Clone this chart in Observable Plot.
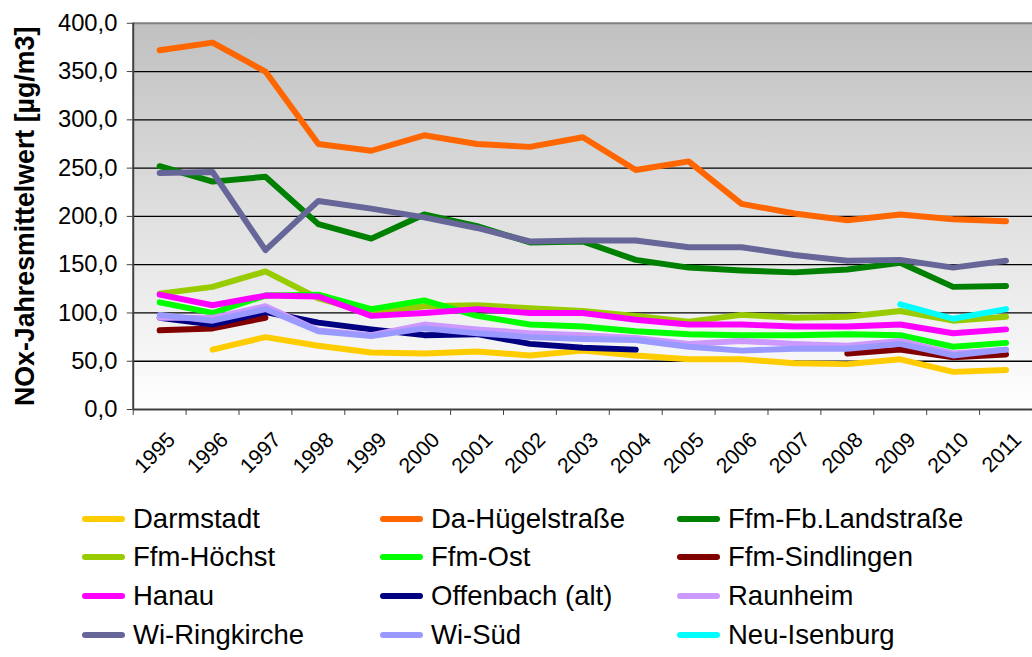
<!DOCTYPE html>
<html>
<head>
<meta charset="utf-8">
<script src="https://cdn.jsdelivr.net/npm/d3@7"></script>
<script src="https://cdn.jsdelivr.net/npm/@observablehq/plot@0.6"></script>
<style>
  html, body { margin: 0; padding: 0; background: #fff; overflow: hidden; }
  #wrap { position: relative; width: 1032px; height: 657px; overflow: hidden; font-family: "Liberation Sans", Arial, sans-serif; }
  #chart { position: absolute; left: 0; top: 0; }
  .leg { position: absolute; display: flex; align-items: center; height: 32px; font-size: 27.5px; color: #000; white-space: nowrap; }
  .leg .sw { width: 43px; height: 6px; border-radius: 3px; margin-right: 8px; }
</style>
</head>
<body>
<div id="wrap"><div id="chart"></div></div>
<script>
const years = [1995,1996,1997,1998,1999,2000,2001,2002,2003,2004,2005,2006,2007,2008,2009,2010,2011];

const darmstadt   = [null, 62, 75, 66, 59, 58, 60, 56, 61, 56, 52, 52, 48, 47, 52, 39, 41];
const daHuegel    = [372, 380, 350, 275, 268, 284, 275, 272, 282, 248, 257, 213, 203, 196, 202, 197, 195];
const fbLand      = [252, 236, 241, 192, 177, 202, 190, 173, 174, 155, 147, 144, 142, 145, 152, 127, 128];
const hoechst     = [120, 127, 143, 115, 100, 107, 108, 105, 102, 97, 91, 98, 95, 96, 102, 92, 96];
const ost         = [111, 100, 118, 119, 104, 113, 97, 88, 86, 81, 78, 77, 77, 78, 77, 65, 69];
const sindlingen  = [82, 84, 95, null, null, null, null, null, null, null, null, null, null, 58, 62, 54, 57];
const hanau       = [119, 108, 118, 117, 97, 100, 104, 100, 100, 93, 88, 88, 86, 86, 88, 79, 83];
const offenbach   = [95, 88, 101, 90, 83, 77, 78, 68, 64, 62, null, null, null, null, null, null, null];
const raunheim    = [95, 95, 107, 82, 77, 88, 83, 79, 77, 74, 68, 71, 68, 66, 71, 58, 62];
const ringkirche  = [245, 246, 165, 216, 208, 199, 188, 174, 175, 175, 168, 168, 160, 154, 155, 147, 154];
const wiSued      = [98, 92, 104, 81, 76, 84, 79, 75, 73, 72, 65, 61, 63, 63, 68, 56, 62];
const neuIsenburg = [null, null, null, null, null, null, null, null, null, null, null, null, null, null, 109, 94, 104];

const seriesNames  = ["Darmstadt","Da-Hügelstraße","Ffm-Fb.Landstraße","Ffm-Höchst","Ffm-Ost","Ffm-Sindlingen","Hanau","Offenbach (alt)","Raunheim","Wi-Ringkirche","Wi-Süd","Neu-Isenburg"];
const seriesValues = [darmstadt, daHuegel, fbLand, hoechst, ost, sindlingen, hanau, offenbach, raunheim, ringkirche, wiSued, neuIsenburg];
const seriesColors = ["#FFCC00","#FF6600","#008000","#99CC00","#00FF00","#800000","#FF00FF","#000080","#CC99FF","#666699","#9999FF","#00FFFF"];

const yTicks = [0, 50, 100, 150, 200, 250, 300, 350, 400];
const yLabel = "NOx-Jahresmittelwert [µg/m3]";

const halfYears = years.map(y => y - 0.5).concat([years[years.length - 1] + 0.5]);

const lineMarks = seriesValues.map((vals, i) =>
  Plot.line(years.map((yr, j) => ({year: yr, v: vals[j]})), {
    x: "year", y: "v",
    stroke: seriesColors[i], strokeWidth: 6,
    strokeLinecap: "round", strokeLinejoin: "round"
  })
);

const chart = Plot.plot({
  width: 1042, height: 500,
  marginLeft: 134, marginRight: 0, marginTop: 23, marginBottom: 87,
  style: {fontFamily: "'Liberation Sans', Arial, sans-serif", background: "transparent", color: "#000", overflow: "visible"},
  x: {domain: [years[0] - 0.5, years[years.length - 1] + 0.5]},
  y: {domain: [0, 400]},
  marks: [
    Plot.frame({fill: "#cccccc", stroke: null, ariaLabel: "bgframe"}),
    Plot.ruleY(yTicks.filter(d => d > 0 && d < 400), {stroke: "#000", strokeWidth: 1.3}),
    Plot.ruleY([400], {stroke: "#808080", strokeWidth: 2}),
    ...lineMarks,
    Plot.ruleX([years[0] - 0.5], {stroke: "#404040", strokeWidth: 2}),
    Plot.ruleY([0], {stroke: "#404040", strokeWidth: 2}),
    Plot.axisY({ticks: yTicks, tickSize: 6, tickPadding: 10, fontSize: 24, label: null,
      tickFormat: d => d.toFixed(1).replace(".", ","), stroke: "#404040"}),
    Plot.axisX({ticks: halfYears, tickSize: 6, tickFormat: () => "", label: null, stroke: "#404040"}),
    Plot.axisX({ticks: years, tickSize: 0, tickPadding: 27, tickRotate: -45, fontSize: 21.5, label: null,
      tickFormat: d => String(d), dx: 12}),
    Plot.text([yLabel], {frameAnchor: "left", dx: -109, rotate: -90, textAnchor: "middle",
      fontSize: 27, fontWeight: "bold", fill: "#000"})
  ]
});

// gradient background for plot area
const svg = d3.select(chart);
const defs = svg.insert("defs", ":first-child");
const grad = defs.append("linearGradient").attr("id", "bgGrad").attr("x1", 0).attr("y1", 0).attr("x2", 0).attr("y2", 1);
grad.append("stop").attr("offset", "0%").attr("stop-color", "#c0c0c0");
grad.append("stop").attr("offset", "100%").attr("stop-color", "#ffffff");
svg.selectAll('[aria-label="bgframe"] rect, rect[aria-label="bgframe"]').attr("fill", "url(#bgGrad)");
svg.selectAll('[aria-label="bgframe"]').attr("fill", "url(#bgGrad)");

document.getElementById("chart").appendChild(chart);

// legend
const wrap = document.getElementById("wrap");
const colX = [82, 380, 677];
const rowY = [519, 557, 596, 635];
seriesNames.forEach((name, i) => {
  const c = i % 3, r = Math.floor(i / 3);
  const d = document.createElement("div");
  d.className = "leg";
  d.style.left = colX[c] + "px";
  d.style.top = (rowY[r] - 16) + "px";
  const sw = document.createElement("span");
  sw.className = "sw";
  sw.style.background = seriesColors[i];
  const t = document.createElement("span");
  t.textContent = name;
  d.appendChild(sw); d.appendChild(t);
  wrap.appendChild(d);
});
</script>
</body>
</html>
